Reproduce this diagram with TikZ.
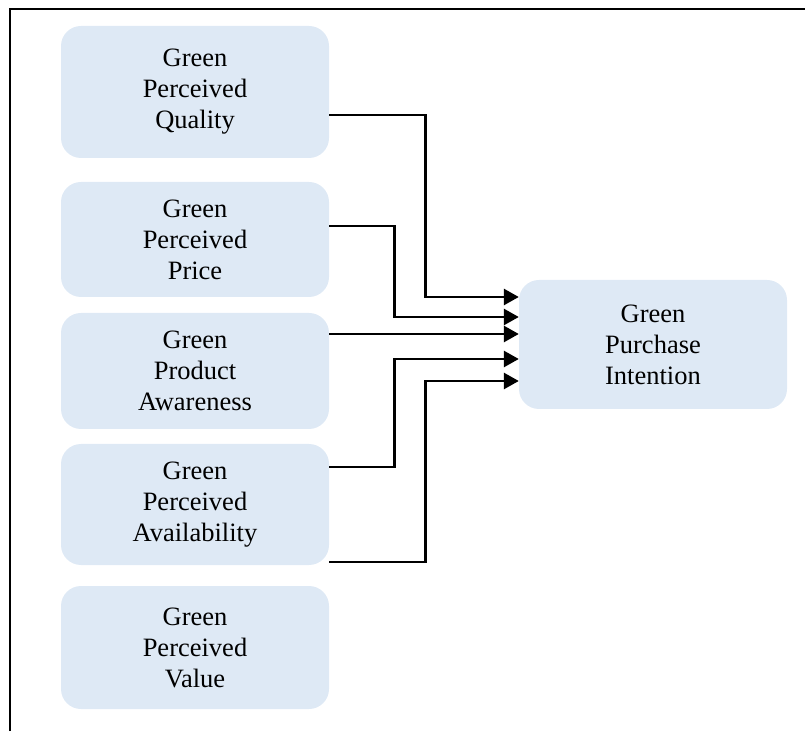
\documentclass[tikz,border=0pt]{standalone}
\usepackage{fontspec}
\setmainfont{Liberation Serif}
\usetikzlibrary{arrows.meta}
\definecolor{boxblue}{HTML}{DEE9F5}
\begin{document}
\begin{tikzpicture}[x=1pt,y=1pt,line join=miter,
	factor/.style={fill=boxblue,rounded corners=20pt,minimum width=268pt,inner sep=0pt,align=center,font=\fontsize{26.5}{31}\selectfont},
	link/.style={line width=2.8pt,-{Triangle[length=15pt,width=16pt]}}]
	\def\xmin{0} \def\xmax{805}
	\def\ymin{0} \def\ymax{731}
	\useasboundingbox (\xmin,\ymin) rectangle (\xmax,\ymax);
	% frame, cut at right and bottom
	\draw[line width=2.4pt] (10,\ymin)--(10,722)--(\xmax,722);
	\node[factor,minimum height=132pt] (gpq) at (195,639) {Green\\Perceived\\Quality};
	\node[factor,minimum height=115pt] (gpp) at (195,491.5) {Green\\Perceived\\Price};
	\node[factor,minimum height=116pt] (gpa) at (195,360) {Green\\Product\\Awareness};
	\node[factor,minimum height=121pt] (gpav) at (195,226.5) {Green\\Perceived\\Availability};
	\node[factor,minimum height=123pt] (gpv) at (195,83.5) {Green\\Perceived\\Value};
	\node[factor,minimum height=129pt] (gpi) at (653,386.5) {Green\\Purchase\\Intention};
	\draw[link] ([yshift=-23pt]gpq.east)--++(96,0) |- ([yshift=47.5pt]gpi.west);
	\draw[link] ([yshift=13.5pt]gpp.east)--++(65,0) |- ([yshift=27.5pt]gpi.west);
	\draw[link] ([yshift=37pt]gpa.east)--([yshift=10.5pt]gpi.west);
	\draw[link] ([yshift=37.5pt]gpav.east)--++(65,0) |- ([yshift=-14.5pt]gpi.west);
	\draw[link] ([yshift=-57.5pt]gpav.east)--++(96,0) |- ([yshift=-36.5pt]gpi.west);
\end{tikzpicture}
\end{document}
